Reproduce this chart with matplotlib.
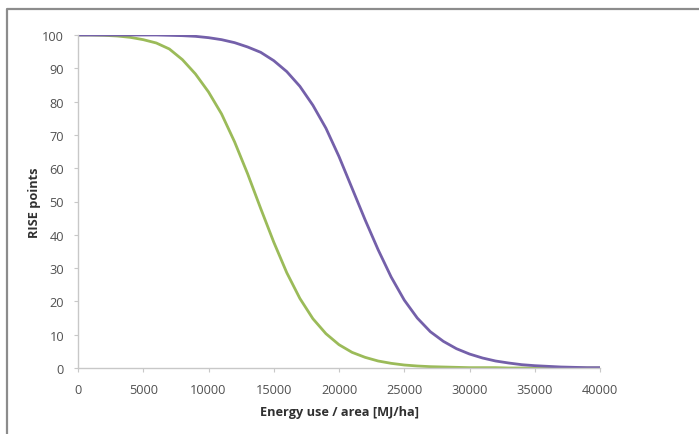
import matplotlib
matplotlib.use("Agg")
import matplotlib.pyplot as plt
from matplotlib.lines import Line2D

energy = [0, 1000, 2000, 3000, 4000, 5000, 6000, 7000, 8000, 9000,
          10000, 11000, 12000, 13000, 14000, 15000, 16000, 17000, 18000, 19000,
          20000, 21000, 22000, 23000, 24000, 25000, 26000, 27000, 28000, 29000,
          30000, 31000, 32000, 33000, 34000, 35000, 36000, 37000, 38000, 39000, 40000]

green_points = [100, 100, 99.9, 99.7, 99.3, 98.6, 97.6, 95.8, 92.6, 88.3,
                82.9, 76.3, 67.9, 58.3, 47.9, 37.8, 28.6, 20.9, 14.8, 10.3,
                7.0, 4.7, 3.2, 2.1, 1.4, 0.9, 0.6, 0.4, 0.3, 0.2,
                0.1, 0.1, 0.1, 0.0, 0.0, 0.0, 0.0, 0.0, 0.0, 0.0, 0.0]

purple_points = [100, 100, 100, 100, 100, 100, 100, 99.9, 99.8, 99.6,
                 99.2, 98.6, 97.7, 96.4, 94.8, 92.3, 89.0, 84.6, 78.9, 72.0,
                 63.5, 54.0, 44.5, 35.5, 27.3, 20.4, 15.0, 10.9, 8.0, 5.8,
                 4.2, 3.0, 2.1, 1.5, 1.0, 0.7, 0.5, 0.3, 0.2, 0.1, 0.1]

x_ticks = [0, 5000, 10000, 15000, 20000, 25000, 30000, 35000, 40000]
y_ticks = [0, 10, 20, 30, 40, 50, 60, 70, 80, 90, 100]

plt.rcParams['font.family'] = ['Open Sans', 'DejaVu Sans']

fig = plt.figure(figsize=(6.99, 4.35), dpi=100)
ax = fig.add_axes([78/699, 1-369/435, 522/699, 333/435])

ax.plot(energy, green_points, color='#9bbb59', lw=2.0, solid_capstyle='round',
        solid_joinstyle='round')
ax.plot(energy, purple_points, color='#7460aa', lw=2.0, solid_capstyle='round',
        solid_joinstyle='round')

ax.set_xlim(0, 40000)
ax.set_ylim(0, 100)
ax.set_xticks(x_ticks)
ax.set_yticks(y_ticks)
ax.set_xticklabels([str(v) for v in x_ticks])
ax.set_yticklabels([str(v) for v in y_ticks])

for s in ['top', 'right']:
    ax.spines[s].set_visible(False)
for s in ['left', 'bottom']:
    ax.spines[s].set_color('#c8c8c8')
    ax.spines[s].set_linewidth(1.0)
ax.tick_params(axis='both', direction='out', length=3, width=0.8, color='#c8c8c8',
               labelsize=9.2, labelcolor='#505050')
ax.tick_params(axis='y', pad=7)
ax.tick_params(axis='x', pad=8)

ax.set_xlabel('Energy use / area [MJ/ha]', fontsize=9.2, fontweight='bold',
              color='#303030', labelpad=6)
ax.set_ylabel('RISE points', fontsize=9.2, fontweight='bold', color='#303030',
              labelpad=1)

# outer frame (left and top edges visible)
fig.add_artist(Line2D([7/699, 7/699, 1.0], [0.0, 1-10/435, 1-10/435],
                      transform=fig.transFigure, color='#8c8c8c', lw=1.6))

fig.savefig('out.png', dpi=100)
